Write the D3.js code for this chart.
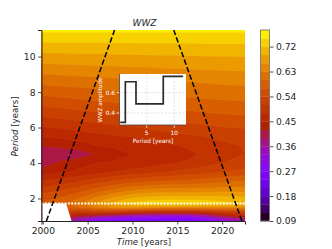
<!DOCTYPE html>
<html><head><meta charset="utf-8">
<script src="https://cdn.jsdelivr.net/npm/d3@7"></script>
<style>html,body{margin:0;padding:0;background:#fff}svg{display:block}text{font-family:"DejaVu Sans",sans-serif}</style>
</head><body><svg id="c" width="332" height="249"></svg>
<script>
const times=[2000,2002,2004,2006,2008,2010,2012,2014,2016,2018,2020,2022.6];
const periods=[11.5,10.5,9.5,8.5,7.5,6.5,5.5,5,4.5,4,3.5,3,2.5,2,1.73,1.5,1.25,1,0.85,0.73];
const amplitude=[
[.757,.757,.757,.757,.757,.757,.757,.757,.757,.757,.757,.757],
[.705,.705,.706,.706,.707,.707,.708,.708,.708,.709,.709,.709],
[.655,.657,.659,.660,.662,.664,.665,.667,.668,.670,.671,.672],
[.605,.608,.611,.614,.617,.620,.623,.626,.628,.630,.633,.635],
[.555,.560,.565,.570,.575,.580,.585,.590,.593,.596,.598,.600],
[.505,.510,.516,.522,.528,.534,.540,.545,.550,.555,.560,.563],
[.450,.456,.463,.470,.476,.482,.490,.498,.505,.510,.516,.522],
[.425,.430,.440,.450,.455,.460,.465,.475,.485,.495,.505,.512],
[.390,.395,.402,.424,.438,.450,.455,.460,.470,.485,.500,.510],
[.405,.428,.442,.450,.455,.458,.465,.475,.485,.495,.510,.518],
[.435,.445,.455,.465,.480,.490,.500,.510,.520,.530,.540,.550],
[.480,.490,.505,.525,.540,.555,.565,.570,.575,.580,.590,.600],
[.525,.535,.555,.580,.605,.625,.635,.640,.640,.640,.645,.645],
[.560,.575,.600,.640,.670,.695,.705,.710,.710,.710,.705,.700],
[.575,.590,.620,.665,.700,.725,.740,.745,.745,.740,.730,.720],
[.570,.580,.600,.635,.660,.670,.660,.650,.650,.655,.655,.650],
[.530,.530,.500,.510,.510,.490,.470,.465,.465,.480,.510,.530],
[.470,.470,.410,.390,.360,.340,.330,.320,.320,.350,.400,.450],
[.430,.430,.360,.310,.285,.275,.265,.260,.260,.290,.340,.390],
[.400,.400,.330,.275,.250,.245,.240,.235,.235,.265,.310,.360]];
const levels=d3.range(24).map(i=>+(0.09+i*0.03).toFixed(2));
const xTicks=[2000,2005,2010,2015,2020];
const yTicks=[2,4,6,8,10];
const cbTicks=[0.09,0.18,0.27,0.36,0.45,0.54,0.63,0.72];
const coiLeftTime=[2000.4,2008.0], coiRightTime=[2022.2,2014.6], coiPeriod=[0.73,11.5];
const cutoffPeriod=1.72;
const maskTime=[1999.85,2002.6,2003.2,1999.85], maskPeriod=[1.72,1.72,0.73,0.73];
const insetPeriod=[0.2,1.13,3.06,8,11.6], insetAmp=[0.308,0.708,0.49,0.76,0.76];
const insetXTicks=[5,10], insetYTicks=[0.4,0.6];

const INK="#262626";
const svg=d3.select("#c");
const x=d3.scaleLinear().domain([1999.85,2022.55]).range([41.5,245]);
const y=d3.scaleLinear().domain([0.73,11.5]).range([221,30]);
const cm=t=>{const r=Math.sqrt(t),g=t*t*t,b=Math.max(0,Math.sin(2*Math.PI*t));
  return d3.rgb(r*255,g*255,b*255).formatHex();};
const mids=levels.slice(0,-1).map(d=>d+0.015);
const norm=d3.scaleLinear().domain([levels[0],levels[levels.length-1]]).range([0,1]);
const bandColor=i=>cm(norm(mids[i]));

svg.append("clipPath").attr("id","plot").append("rect")
  .attr("x",41.5).attr("y",30).attr("width",203.5).attr("height",191);
const n=times.length,m=periods.length;
const ix=d3.scaleLinear().domain([0,...d3.range(n).map(i=>i+.5),n]).range([times[0]-.2,...times,times[n-1]]);
const iy=d3.scaleLinear().domain([0,...d3.range(m).map(i=>i+.5),m]).range([periods[0],...periods,periods[m-1]]);
const proj=d3.geoTransform({point(a,b){this.stream.point(x(ix(a)),y(iy(b)));}});
const path=d3.geoPath(proj);
const cont=d3.contours().size([n,m]).smooth(true).thresholds(levels.slice(0,-1));
const g=svg.append("g").attr("clip-path","url(#plot)");
g.selectAll("path").data(cont(amplitude.flat())).join("path")
  .attr("d",path).attr("fill",(d,i)=>bandColor(i))
  .attr("stroke","#ffd9b0").attr("stroke-opacity",0.1).attr("stroke-width",0.5);

g.append("path").attr("fill","#fff")
  .attr("d",d3.line().x(d=>x(d[0])).y(d=>y(d[1]))(d3.zip(maskTime,maskPeriod))+"Z");
g.append("line").attr("x1",41.5).attr("x2",245).attr("y1",y(cutoffPeriod)).attr("y2",y(cutoffPeriod))
  .attr("stroke","#fff").attr("stroke-width",1.9).attr("stroke-dasharray","1.9 1.4");
[coiLeftTime,coiRightTime].forEach(t=>{
  g.append("line").attr("x1",x(t[0])).attr("y1",y(coiPeriod[0])).attr("x2",x(t[1])).attr("y2",y(coiPeriod[1]))
   .attr("stroke","#000").attr("stroke-width",1.5).attr("stroke-dasharray","5.5 2.4");
});

function style(a){a.selectAll("text").attr("fill",INK).style("font-size","9.2px");
  a.selectAll("line").attr("stroke",INK).attr("stroke-width",.8);}
const ax=svg.append("g").attr("transform","translate(0,221)").call(d3.axisBottom(x).tickValues(xTicks).tickFormat(d3.format("d")).tickSize(3.5).tickPadding(2.5));
style(ax);ax.select(".domain").attr("stroke",INK).attr("stroke-width",1);
const ay=svg.append("g").attr("transform","translate(41.5,0)").call(d3.axisLeft(y).tickValues(yTicks).tickSize(3.5).tickPadding(2.5));
style(ay);ay.select(".domain").attr("stroke",INK).attr("stroke-width",1);

const t=(xx,yy,parts,o={})=>{const e=svg.append("text").attr("x",xx).attr("y",yy).attr("text-anchor",o.anchor||"middle")
  .attr("fill",o.fill||INK).style("font-size",(o.size||8.6)+"px");
  if(o.rot)e.attr("transform",`rotate(${o.rot} ${xx} ${yy})`);
  parts.forEach(([s,it])=>e.append("tspan").text(s).style("font-style",it?"italic":"normal"));return e;};
t(144.5,26,[["WWZ",true]],{size:9});
t(144,245,[["Time",true],[" [years]",false]]);
t(18,126.5,[["Period",true],[" [years]",false]],{rot:-90});

// inset
const ins=svg.append("g");
const ix2=d3.scaleLinear().domain([5,10]).range([146.7,174.3]);
const iy2=d3.scaleLinear().domain([0.4,0.6]).range([113,92.7]);
ins.append("rect").attr("x",119.5).attr("y",74).attr("width",66.5).attr("height",51).attr("fill","#fff");
insetXTicks.forEach(v=>{ins.append("line").attr("x1",ix2(v)).attr("x2",ix2(v)).attr("y1",74).attr("y2",125).attr("stroke","#ccc").attr("stroke-width",.6).attr("stroke-dasharray","2 1.5");
  ins.append("line").attr("x1",ix2(v)).attr("x2",ix2(v)).attr("y1",125).attr("y2",128).attr("stroke","#fff").attr("stroke-width",.7);
  t(ix2(v),134.5,[[String(v),false]],{fill:"#fff",size:5.8});});
insetYTicks.forEach(v=>{ins.append("line").attr("y1",iy2(v)).attr("y2",iy2(v)).attr("x1",119.5).attr("x2",186).attr("stroke","#ccc").attr("stroke-width",.6).attr("stroke-dasharray","2 1.5");
  ins.append("line").attr("y1",iy2(v)).attr("y2",iy2(v)).attr("x1",116.5).attr("x2",119.5).attr("stroke","#fff").attr("stroke-width",.7);
  t(115,iy2(v)+2,[[v.toFixed(1),false]],{fill:"#fff",size:5.8,anchor:"end"});});
ins.append("path").attr("fill","none").attr("stroke","#2b2b2b").attr("stroke-width",1.7)
  .attr("d",d3.line().curve(d3.curveStepAfter).x(d=>ix2(d[0])).y(d=>iy2(d[1]))(d3.zip(insetPeriod,insetAmp)));
ins.append("line").attr("x1",119.5).attr("x2",186).attr("y1",125).attr("y2",125).attr("stroke","#333").attr("stroke-width",.7);
ins.append("line").attr("x1",119.5).attr("x2",119.5).attr("y1",74).attr("y2",125).attr("stroke","#333").attr("stroke-width",.7);
t(153,143,[["Period [years]",false]],{fill:"#fff",size:5.8});
t(102,100,[["WWZ amplitude",false]],{fill:"#fff",size:5.6,rot:-90});

// colorbar
const cb=d3.scaleLinear().domain([0.09,0.78]).range([221,30]);
svg.append("g").selectAll("rect").data(mids).join("rect")
  .attr("x",260.5).attr("width",9).attr("y",(d,i)=>cb(levels[i+1])).attr("height",(d,i)=>cb(levels[i])-cb(levels[i+1])+.3)
  .attr("fill",(d,i)=>bandColor(i));
svg.append("rect").attr("x",260.5).attr("y",30).attr("width",9).attr("height",191).attr("fill","none").attr("stroke","#777").attr("stroke-width",.9);
const ac=svg.append("g").attr("transform","translate(270,0)").call(d3.axisRight(cb).tickValues(cbTicks).tickFormat(d3.format(".2f")).tickSize(3.5).tickPadding(2.5));
style(ac);ac.select(".domain").remove();
</script></body></html>
